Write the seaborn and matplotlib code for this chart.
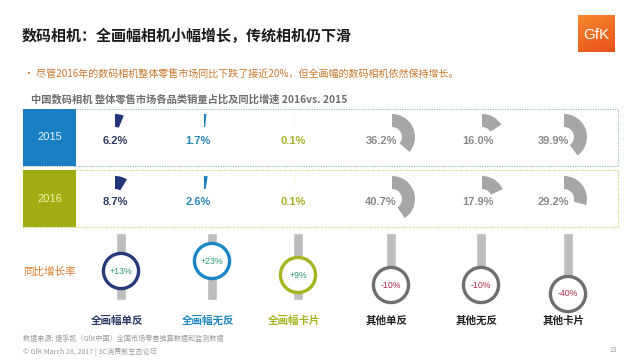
import matplotlib
matplotlib.use("Agg")
import matplotlib.pyplot as plt
import seaborn as sns
import numpy as np
from matplotlib.patches import Wedge, Rectangle
from matplotlib.colors import LinearSegmentedColormap

# ---- data ----
categories = ["全画幅单反", "全画幅无反", "全画幅卡片", "其他单反", "其他无反", "其他卡片"]
share_2015 = [6.2, 1.7, 0.1, 36.2, 16.0, 39.9]
share_2016 = [8.7, 2.6, 0.1, 40.7, 17.9, 29.2]
growth = [13, 23, 9, -10, -10, -40]
years = ["2015", "2016"]

title = "数码相机：全画幅相机小幅增长，传统相机仍下滑"
subtitle = "• 尽管2016年的数码相机整体零售市场同比下跌了接近20%，但全画幅的数码相机依然保持增长。"
chart_title = "中国数码相机 整体零售市场各品类销量占比及同比增速 2016vs. 2015"
source_1 = "数据来源: 捷孚凯（GfK中国）全国市场零售推算数据和监测数据"
source_2 = "© GfK March 28, 2017 | 3C消费新生态论坛"

# ---- layout / styles ----
wedge_x = [115, 204, 294, 392, 482, 564]
label_x = [115, 198, 293, 381, 478, 553]
col_x = [121, 212, 298, 391, 481, 568]
row_cy = [137, 199]
row_label_y = [141, 202]
row_top = [109, 170]
row_h = 57

wedge_colors = ["#22357a", "#1a80c4", "#a3b31c", "#a6a6a6", "#a6a6a6", "#a6a6a6"]
pct_colors = ["#2e3a62", "#2a86b4", "#a6b02a", "#8a8a8a", "#8a8a8a", "#8a8a8a"]
ring_colors = ["#263a78", "#1b87c2", "#a4b51f", "#6e6e6e", "#6e6e6e", "#6e6e6e"]
name_colors = ["#2c3a66", "#1f86bf", "#a3b320", "#222222", "#222222", "#222222"]
box_colors = ["#1a7fc2", "#a2ad14"]
box_text = ["#e8f2fb", "#f4f3b0"]
dot_colors = ["#8fb3bf", "#c9cf6a"]

CJK = ["Noto Sans CJK SC", "DejaVu Sans"]
NUM = ["Liberation Sans", "DejaVu Sans"]

sns.set_theme(style="white")
plt.rcParams["font.family"] = CJK

fig = plt.figure(figsize=(6.4, 3.6), dpi=100)
ax = fig.add_axes([0, 0, 1, 1])
ax.set_xlim(0, 640)
ax.set_ylim(360, 0)
ax.axis("off")

# header
ax.text(22, 36, title, fontsize=10.8, fontweight="bold", color="#1a1a1a", va="center", family=CJK)
ax.text(24, 75, subtitle, fontsize=7.2, color="#c9782e", va="center", family=CJK)
ax.text(31, 99, chart_title, fontsize=7.4, fontweight="bold", color="#6e6e6e", va="center", family=CJK)

# GfK logo with a soft orange gradient
logo_cmap = LinearSegmentedColormap.from_list("gfk", ["#f7892e", "#e8501a"])
grad = np.linspace(0, 1, 64).reshape(-1, 1) + np.linspace(0, 0.4, 64).reshape(1, -1)
ax.imshow(grad, cmap=logo_cmap, extent=(578, 615, 52, 15), aspect="auto", zorder=2)
ax.text(596.5, 35, "GfK", fontsize=11, color="white", ha="center", va="center", family=NUM, zorder=3)
ax.set_xlim(0, 640)
ax.set_ylim(360, 0)

# year rows with share wedges
for i, (yr, shares) in enumerate(zip(years, [share_2015, share_2016])):
    top = row_top[i]
    ax.add_patch(Rectangle((23, top), 595, row_h, fill=False, edgecolor=dot_colors[i],
                           linewidth=0.8, linestyle=(0, (1, 1.2))))
    ax.add_patch(Rectangle((23, top), 53, row_h, facecolor=box_colors[i], edgecolor="none"))
    ax.text(49.5, top + row_h / 2, yr, fontsize=8, color=box_text[i], ha="center", va="center", family=NUM)
    for j, s in enumerate(shares):
        ax.add_patch(Wedge((wedge_x[j], row_cy[i]), 23, 270, 270 + 360 * s / 100, width=13,
                           facecolor=wedge_colors[j], edgecolor="none"))
        ax.text(label_x[j], row_label_y[i], f"{s:.1f}%", fontsize=8, fontweight="bold",
                color=pct_colors[j], ha="center", va="center", family=NUM)

# growth "thermometers"
def thermo_y(g):
    return 284 - g if g > 0 else 282 - 0.3 * g

circle_y = [thermo_y(g) for g in growth]
bar_bottom = [300 if g > 0 else cy for g, cy in zip(growth, circle_y)]
ax.bar(col_x, [b - 233 for b in bar_bottom], bottom=233, width=10, color="#bdbdbd", zorder=1)
sns.scatterplot(x=col_x, y=circle_y, s=640, color="white", edgecolor=ring_colors,
                linewidth=2.4, zorder=3, ax=ax, legend=False)
ax.set_xlim(0, 640)
ax.set_ylim(360, 0)
for x, cy, g in zip(col_x, circle_y, growth):
    ax.text(x, cy, f"{g:+d}%", fontsize=6.3, color="#2b9a72" if g > 0 else "#b42a4c",
            ha="center", va="center", zorder=4, family=NUM)

ax.text(23, 272, "同比增长率", fontsize=7.6, color="#e07a2c", va="center", family=CJK)
for x, name, c in zip(col_x, categories, name_colors):
    ax.text(x - 4, 321, name, fontsize=7.6, fontweight="bold", color=c, ha="center", va="center", family=CJK)

# footer
ax.text(23, 339, source_1, fontsize=5.1, color="#9a9a9a", va="center", family=CJK)
ax.text(23, 352, source_2, fontsize=5.1, color="#9a9a9a", va="center", family=CJK)
ax.text(613, 351, "13", fontsize=4.8, color="#9a9a9a", ha="center", va="center", family=NUM)

fig.savefig("out.png", dpi=100, facecolor="white")
